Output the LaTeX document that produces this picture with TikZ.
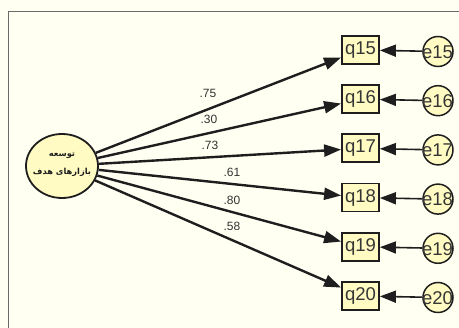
\documentclass[tikz,border=0pt]{standalone}
\usepackage{fontspec}
\setmainfont{Liberation Sans}
\newfontfamily\arabicfont[Script=Arabic]{DejaVu Sans Bold}
\TeXXeTstate=1
\usetikzlibrary{arrows.meta,shapes.geometric}
\definecolor{bgc}{HTML}{FFFFF2}
\definecolor{nodefill}{HTML}{FFFBC2}
\definecolor{framec}{HTML}{6A6A6A}
\definecolor{inkc}{HTML}{1E1E1E}
\definecolor{labc}{HTML}{333333}
\tikzset{
  obsbox/.style={draw=inkc,line width=1.8pt,fill=nodefill,minimum width=37pt,minimum height=28pt,inner sep=0pt,font=\fontsize{18.5}{18.5}\selectfont,text=inkc!90},
  errc/.style={circle,draw=inkc,line width=1.5pt,fill=nodefill,minimum size=30pt,inner sep=0pt},
  errlab/.style={font=\fontsize{18.5}{18.5}\selectfont,text=inkc!90,inner sep=0pt},
  latent/.style={ellipse,draw=inkc,line width=1.8pt,fill=nodefill,minimum width=72pt,minimum height=64pt,inner sep=0pt},
  loadpath/.style={draw=inkc,line width=2.4pt,-{Triangle[length=17pt,width=12pt]}},
  errpath/.style={draw=inkc,line width=1.6pt,-{Triangle[length=16pt,width=12pt]}},
  wlab/.style={font=\fontsize{12}{12}\selectfont,text=labc,inner sep=0pt}
}
\begin{document}
\begin{tikzpicture}[x=1pt,y=-1pt]
\useasboundingbox (0,0) rectangle (459,328);
\fill[bgc] (0,0) rectangle (459,328);
\draw[framec,line width=1.5pt] (8.5,328) -- (8.5,11.5) -- (459,11.5);
\node[latent] (ell) at (62,166) {};
\node[align=center,font=\arabicfont\fontsize{8.3}{18}\selectfont,text=inkc,inner sep=0pt] (elltext) at (62,164) {\beginR توسعه\endR\\\beginR بازارهای هدف\endR};
\foreach \i/\y in {15/50,16/99.2,17/148.4,18/197.6,19/246.8,20/296}{
  \node[obsbox] (q\i) at (360.5,\y) {q\i};
  \node[errc] (e\i) at (438,\y+1.5) {};
  \node[errlab] (el\i) at (437.5,\y+2) {e\i};
  \draw[errpath] (e\i) -- (q\i);
  \draw[loadpath] (ell) -- (q\i);
}
\node[wlab] (l15) at (208,93) {.75};
\node[wlab] (l16) at (209,119) {.30};
\node[wlab] (l17) at (210,145) {.73};
\node[wlab] (l18) at (232,172) {.61};
\node[wlab] (l19) at (232,200) {.80};
\node[wlab] (l20) at (232,226) {.58};
\end{tikzpicture}
\end{document}
